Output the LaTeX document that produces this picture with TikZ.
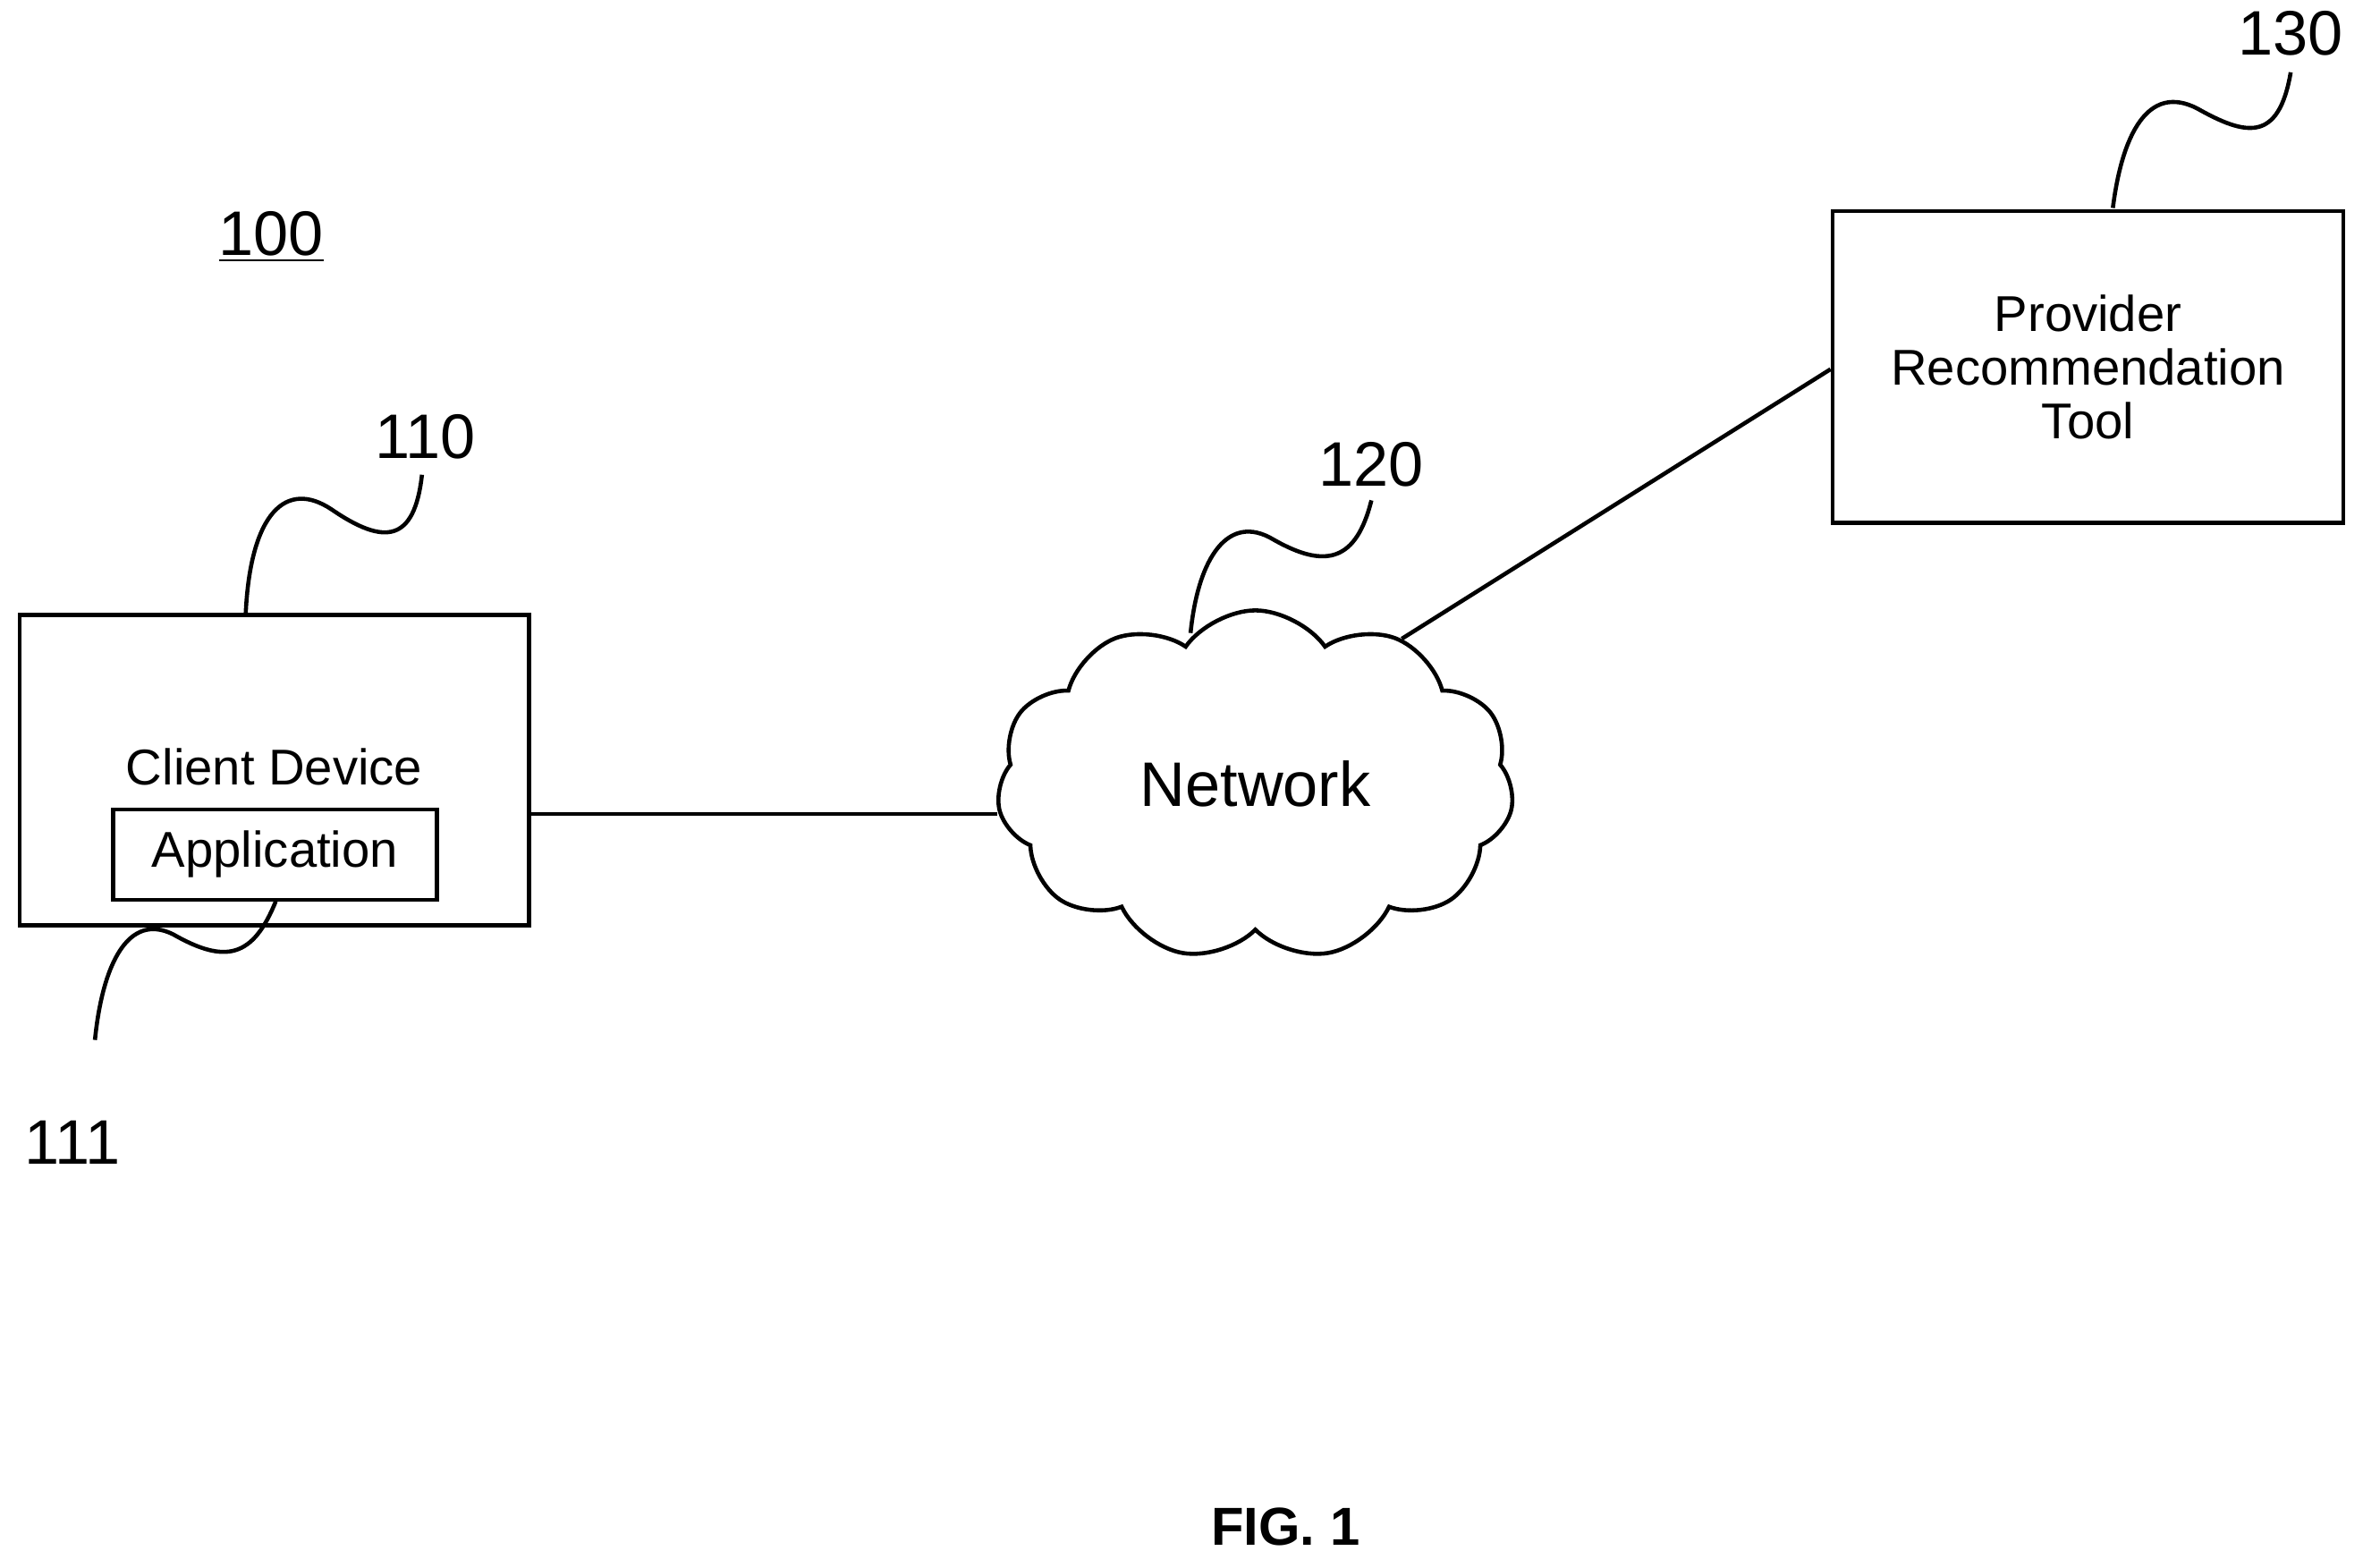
\documentclass[tikz,border=0pt]{standalone}
\usepackage{fontspec}
\setmainfont{Liberation Sans}
\usetikzlibrary{shapes.symbols}

\begin{document}
\begin{tikzpicture}[x=0.01685cm, y=-0.01685cm, line width=1.3pt,
  box/.style={draw, rectangle, inner sep=0pt},
  lbl/.style={font=\fontsize{20}{24}\selectfont}]

\useasboundingbox (0,0) rectangle (1568,1040);

\node[lbl] (fig) at (180,157) {\underline{100}};

% client device
\node[box, minimum width=338*0.01685cm, minimum height=206*0.01685cm] (client) at (182,511) {};
\node[font=\fontsize{16}{19}\selectfont] (clienttxt) at (182,509) {Client Device};
\node[box, minimum width=215*0.01685cm, minimum height=60*0.01685cm, font=\fontsize{16}{19}\selectfont] (app) at (182.5,567) {Application};

% network
\node[draw, cloud, cloud puffs=11, cloud puff arc=110, aspect=1.5, minimum width=343*0.01685cm, minimum height=232*0.01685cm, font=\fontsize{20}{24}\selectfont] (net) at (833,521) {};
\node[font=\fontsize{20}{24}\selectfont] (nettxt) at (833,520) {Network};

% tool
\node[box, minimum width=339*0.01685cm, minimum height=207*0.01685cm, align=center, font=\fontsize{16}{19}\selectfont] (tool) at (1385.5,243.5) {Provider\\[-2pt]Recommendation\\[-2pt]Tool};

\draw (client.east |- 0,540) -- (net.west |- 0,540);
\draw (net.45) -- (tool.west |- 0,245);

% reference numerals
\node[lbl] (n110) at (282,290) {110};
\node[lbl] (n111) at (48,758) {111};
\node[lbl] (n120) at (910,308) {120};
\node[lbl] (n130) at (1520,22) {130};

\coordinate (c110) at (163,408);
\coordinate (c111) at (63,690);
\coordinate (c120) at (790,420);
\coordinate (c130) at (1402,138);

\draw (c110) .. controls (166,340) and (190,318) .. (220,338) .. controls (255,362) and (275,360) .. (280,315);
\draw (c111) .. controls (68,640) and (85,605) .. (115,620) .. controls (150,640) and (168,635) .. (183,598);
\draw (c120) .. controls (795,370) and (815,340) .. (845,358) .. controls (880,378) and (900,372) .. (910,332);
\draw (c130) .. controls (1408,90) and (1425,55) .. (1458,72) .. controls (1490,90) and (1512,95) .. (1520,48);

\node[font=\bfseries\fontsize{17}{20}\selectfont] (cap) at (853,1013) {FIG. 1};
\end{tikzpicture}
\end{document}
